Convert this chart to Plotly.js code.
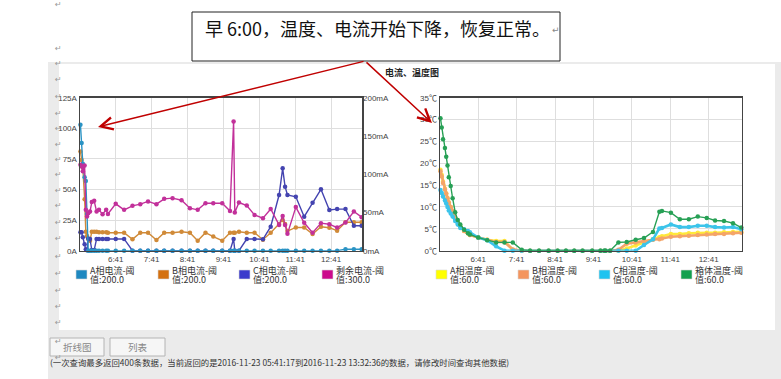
<!DOCTYPE html>
<html><head><meta charset="utf-8">
<script src="https://cdn.plot.ly/plotly-3.0.1.min.js"></script>
<style>html,body{margin:0;padding:0;background:#fff}#c{width:781px;height:379px}</style>
</head><body><div id="c"></div>
<script>
// ---- data ----
const times = ["05:42","05:44","05:46","05:49","05:51","05:53","05:55","05:58","06:01","06:05",
"06:09","06:13","06:19","06:25","06:28","06:41","06:55","07:09","07:22","07:35",
"07:49","08:02","08:16","08:31","08:45","08:58","09:11","09:24","09:39","09:52",
"09:58","10:00","10:07","10:20","10:33","10:47","11:00","11:14","11:20","11:24",
"11:28","11:42","11:56","12:10","12:24","12:38","12:51","13:05","13:19","13:32"];
const curA = [103,88,71,60,57,30,0,0,0,0, 0,0,0,0,0,0,0,0,0,0, 0,0,0,0,0,0,0,0,0,0, 0,0,0,0,0,0,0,0,0,0, 0,0,0,0,0,0,0,1.2,1.2,1.2];
const curB = [81,74,68,42,15.5,12,9.6,8.2,15.5,15.5, 15.5,15,15,15,14.7,14.7,14.7,9.3,14.7,14.7, 8.7,14.7,14.7,15.5,14.7,8.2,14.7,11.5,8.2,14.7, 14.7,14.7,15.5,14.7,14.7,9,14.7,21.8,25,21.8, 16,19,19,13.6,19.6,18.8,16.3,23.2,23.2,23.2];
const curC = [15,15,11,5.2,1.1,0.3,10,9.6,0.5,0.5, 9.6,9.6,9.6,9.6,9.6,9.6,9.6,0,0,0, 0,0,0,0,0,0,0,0,0,0, 9.5,0,0,9.5,9.5,9.3,19.6,45.5,67.3,52.3, 45.5,44,27.8,39.2,50.2,33.2,34,34,20.4,20.4];
const curR = [112.5,110,103.7,111.5,53.4,44.6,49,51.2,63.5,65.2, 51.2,53.4,47.7,53.4,48,61.3,53.4,58.6,60.8,64.4, 60.8,67.8,68.7,66,55.6,53.4,62,62,62,52, 169,50,63,59,46.8,42.5,54.5,33.7,45.5,33.7, 22,57,36.5,23.6,36,34.6,30.2,36.8,51.2,43.8];
const tempA = [18.5,17.3,15.8,14.2,13.1,12,11,10,9,7.5, 6.5,5.5,4.5,4,3.6,3,2.5,2.2,2.2,0.2, 0,0,0,0,0,0,0,0,0,0, 0,0,0,0,0.5,1.2,2.0,2.6,null,3.1, 3.3,3.8,3.8,4.0,4.1,4.1,4.1,4.2,4.3,4.3];
const tempB = [18.2,17,15.5,14,13,12,11,10,9,7.5, 6.5,5.5,4.5,4,3.6,3,2.5,2,2,0.3, 0,0,0,0,0,0,0,0,0,0, 0,0,0,0.2,1.6,1.9,2.2,2.5,null,2.6, 2.8,3.2,3.3,3.4,3.6,3.7,3.8,3.8,4.0,4.1];
const tempC = [13.9,13.2,12.4,11.5,10.8,10,9.2,8.5,7.8,6.8, 6,5.2,4.9,4.5,4.2,3,2.4,1,0,0, 0,0,0,0,0,0,0,0,0,0, 0,0,0,0,0,0,1.3,2.6,null,5.1, 5.2,6.0,5.4,5.4,5.7,5.7,5.4,5.3,5.4,4.9];
const tempBox = [30.3,28.2,25.5,23.5,21.5,19.5,16.8,14.8,12,8.8, 7,6,4.8,4,3.7,3,2.4,1.9,1.9,1.9, 0.2,0,0,0,0,0,0,0,0,0, 0,0,0,1.9,2.0,2.5,2.9,4.3,null,8.9, 9.1,8.7,7.2,7.2,7.8,7.5,6.9,6.8,6.3,5.3];
const curLegend1 = ["A相电流-阈","B相电流-阈","C相电流-阈","剩余电流-阈"];
const curLegend2 = ["值:200.0","值:200.0","值:200.0","值:300.0"];
const tmpLegend1 = ["A相温度-阈","B相温度-阈","C相温度-阈","箱体温度-阈"];
const tmpLegend2 = ["值:60.0","值:60.0","值:60.0","值:60.0"];
const calloutText = "早 6:00，温度、电流开始下降，恢复正常。";
const chartTitle = "电流、温度图";
const footText = "(一次查询最多返回400条数据，当前返回的是2016-11-23 05:41:17到2016-11-23 13:32:36的数据，请修改时间查询其他数据)";
const buttons = ["折线图","列表"];

// ---- layout helpers ----
const W=781,H=379;
const X=v=>v/W, Y=v=>1-v/H;
const day = "2016-11-23 ";
const xs = times.map(t=>day+t);
const range = [day+"05:41:17", day+"13:32:36"];
const tickF = {family:"Liberation Sans, Noto Sans CJK SC", size:8, color:"#444"};
const cjk = "Noto Sans CJK SC";

function tr(y, color, xa, ya, w, ms){
  return {x:xs, y:y, type:"scatter", mode:"lines+markers", xaxis:xa, yaxis:ya,
    line:{color:color, width:w}, marker:{color:color, size:ms}, connectgaps:true,
    cliponaxis:false, showlegend:false, hoverinfo:"skip"};
}
const curCols = ["#2a93c4","#d08a38","#4444b0","#c2309a"];
const tmpCols = ["#ffe83a","#f4a468","#3cc4ea","#27a055"];
const traces = [
  tr(curR, curCols[3], "x", "y2", 1.4, 4.5),
  tr(curB, curCols[1], "x", "y", 1.4, 4.5),
  tr(curC, curCols[2], "x", "y", 1.4, 4.5),
  tr(curA, curCols[0], "x", "y", 1.4, 4.5),
  tr(tempA, tmpCols[0], "x2", "y3", 2.6, 4.5),
  tr(tempB, tmpCols[1], "x2", "y3", 2.6, 4.5),
  tr(tempC, tmpCols[2], "x2", "y3", 2.6, 4.5),
  tr(tempBox, tmpCols[3], "x2", "y3", 1.4, 4.5)
];

const yDom = [Y(250.7), Y(97.7)];
const xBase = {type:"date", range:range, tick0:day+"06:41", dtick:3600000, tickformat:"%-H:%M",
  showgrid:true, gridcolor:"#dedede", showline:true, linecolor:"#444", linewidth:1.5, mirror:true,
  ticks:"", tickfont:tickF, zeroline:false, fixedrange:true};
const layout = {
  width:W, height:H, margin:{l:0,r:0,t:0,b:0}, paper_bgcolor:"#fff", plot_bgcolor:"#fff",
  showlegend:false,
  xaxis: Object.assign({}, xBase, {domain:[X(80),X(362)], anchor:"y"}),
  xaxis2: Object.assign({}, xBase, {domain:[X(440),X(741.7)], anchor:"y3"}),
  yaxis: {domain:yDom, anchor:"x", range:[0,125], dtick:25, ticksuffix:"A", showgrid:true, gridcolor:"#dedede",
    showline:true, linecolor:"#444", linewidth:1.5, mirror:true, ticks:"", tickfont:tickF, zeroline:false},
  yaxis2: {overlaying:"y", side:"right", anchor:"x", range:[0,200], dtick:50, ticksuffix:"mA", showgrid:false,
    showline:false, ticks:"", tickfont:tickF, zeroline:false},
  yaxis3: {domain:yDom, anchor:"x2", range:[0,35], dtick:5, ticksuffix:"℃", showgrid:true, gridcolor:"#dedede",
    showline:true, linecolor:"#444", linewidth:1.5, mirror:true, ticks:"", tickfont:tickF, zeroline:false},
  shapes:[], annotations:[]
};
const S = layout.shapes, A = layout.annotations;
function rect(x0,y0,x1,y1,fill,line,lw,layer){
  S.push({type:"rect", xref:"paper", yref:"paper", x0:X(x0), x1:X(x1), y0:Y(y1), y1:Y(y0),
    fillcolor:fill, line:{color:line||fill, width:lw||0}, layer:layer||"below"});
}
function txt(t,x,y,opt){
  A.push(Object.assign({text:t, xref:"paper", yref:"paper", x:X(x), y:Y(y), showarrow:false,
    xanchor:"left", yanchor:"middle", font:{family:cjk, size:9, color:"#333"}}, opt||{}));
}
// page background panels
rect(48,62,781,379,"#ebebeb");
rect(59,64,775,330,"#ffffff");
// callout box
rect(192,12,560,61,"#ffffff","#222",1,"above");
txt(calloutText, 203, 28, {font:{family:cjk, size:18, color:"#111"}});
txt("↵", 550, 30, {font:{family:"DejaVu Sans", size:9, color:"#888"}});
// arrows
A.push({xref:"paper", yref:"paper", x:X(98), y:Y(127), ax:365-98, ay:61-127, text:"", showarrow:true,
  arrowcolor:"#c00000", arrowwidth:1.5, arrowhead:5, arrowsize:1.6});
A.push({xref:"paper", yref:"paper", x:X(432), y:Y(123), ax:365-432, ay:61-123, text:"", showarrow:true,
  arrowcolor:"#c00000", arrowwidth:1.5, arrowhead:5, arrowsize:1.6});
// chart title
txt(chartTitle, 412, 73, {xanchor:"center", font:{family:cjk, size:9, color:"#222", weight:"bold"}});
// legends
const curSw = ["#1e88c0","#d4700f","#3a3acc","#cc0a8c"];
const tmpSw = ["#ffff00","#f4955e","#1ec3f0","#12a04e"];
const curLx = [76,158,239,322], tmpLx = [436,518,599,681];
for(let i=0;i<4;i++){
  rect(curLx[i],270,curLx[i]+11,279,curSw[i],"#d8d8d8",0.6,"above");
  txt(curLegend1[i], curLx[i]+12, 270, {font:{family:cjk,size:9,color:"#333"}});
  txt(curLegend2[i], curLx[i]+12, 279.5, {font:{family:cjk,size:9,color:"#333"}});
  rect(tmpLx[i],270,tmpLx[i]+11,279,tmpSw[i],"#d8d8d8",0.6,"above");
  txt(tmpLegend1[i], tmpLx[i]+12, 270, {font:{family:cjk,size:9,color:"#333"}});
  txt(tmpLegend2[i], tmpLx[i]+12, 279.5, {font:{family:cjk,size:9,color:"#333"}});
}
// buttons & footer
const bx = [[50,104],[110,165]];
for(let i=0;i<2;i++){
  rect(bx[i][0],338,bx[i][1],356,"#f6f6f6","#b4b4b4",1,"above");
  txt(buttons[i], (bx[i][0]+bx[i][1])/2, 347, {xanchor:"center", font:{family:cjk,size:9.5,color:"#888"}});
}
txt(footText, 48, 362, {font:{family:cjk,size:8.4,color:"#333"}});
// paragraph marks
const marks = [5,48,64,80,97,113,128,144,159,175,190,205,222,238,256,273,290,306,322,341,357];
marks.forEach(m=>txt("↵", 53, m, {font:{family:"DejaVu Sans", size:8, color:"#999"}}));

Plotly.newPlot("c", traces, layout, {staticPlot:true});
</script></body></html>
